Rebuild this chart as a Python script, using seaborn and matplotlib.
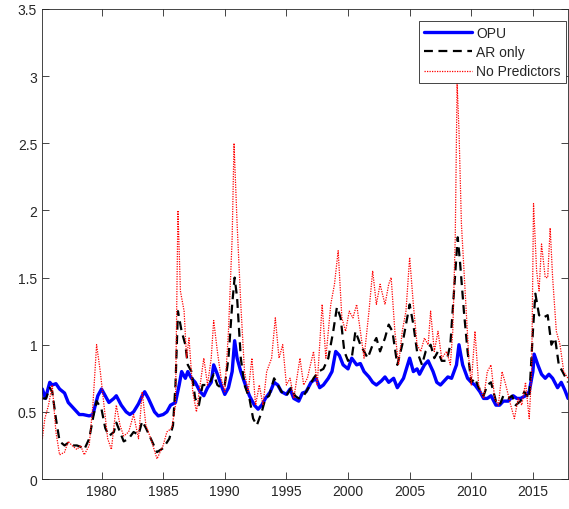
import matplotlib
matplotlib.use("Agg")
import matplotlib.pyplot as plt
import seaborn as sns

# OPU forecast series
opu_year = [1975.2, 1975.45, 1975.8, 1976.0, 1976.3, 1976.6, 1977.0, 1977.3, 1977.7, 1978.2,
            1978.5, 1979.0, 1979.3, 1979.5, 1979.7, 1980.0, 1980.3, 1980.6, 1981.0, 1981.2,
            1981.6, 1982.0, 1982.3, 1982.6, 1983.0, 1983.3, 1983.5, 1983.8, 1984.3, 1984.6,
            1985.0, 1985.3, 1985.6, 1986.0, 1986.3, 1986.5, 1986.8, 1987.0, 1987.3, 1987.6,
            1988.0, 1988.3, 1988.6, 1988.9, 1989.1, 1989.4, 1989.7, 1990.0, 1990.3, 1990.6,
            1990.8, 1991.0, 1991.3, 1991.6, 1992.0, 1992.4, 1992.7, 1993.0, 1993.3, 1993.7,
            1994.0, 1994.3, 1994.6, 1995.0, 1995.3, 1995.6, 1996.0, 1996.3, 1996.6, 1997.0,
            1997.4, 1997.7, 1998.0, 1998.4, 1998.7, 1999.0, 1999.3, 1999.6, 2000.0, 2000.3,
            2000.7, 2001.0, 2001.3, 2001.7, 2002.0, 2002.3, 2002.7, 2003.0, 2003.3, 2003.7,
            2004.0, 2004.5, 2005.0, 2005.3, 2005.6, 2005.8, 2006.2, 2006.5, 2006.9, 2007.2,
            2007.5, 2007.8, 2008.1, 2008.4, 2008.8, 2009.0, 2009.3, 2009.7, 2010.0, 2010.3,
            2010.7, 2011.0, 2011.3, 2011.6, 2012.0, 2012.3, 2012.6, 2013.0, 2013.4, 2013.7,
            2014.0, 2014.4, 2014.7, 2015.0, 2015.1, 2015.4, 2015.7, 2016.0, 2016.3, 2016.6,
            2017.0, 2017.3, 2017.6, 2017.85]
opu_val = [0.67, 0.60, 0.72, 0.70, 0.71, 0.67, 0.64, 0.57, 0.53, 0.48,
           0.48, 0.47, 0.48, 0.55, 0.62, 0.67, 0.62, 0.57, 0.60, 0.62,
           0.55, 0.50, 0.48, 0.50, 0.56, 0.62, 0.65, 0.60, 0.50, 0.47,
           0.48, 0.50, 0.55, 0.57, 0.70, 0.80, 0.75, 0.80, 0.75, 0.72,
           0.65, 0.62, 0.68, 0.72, 0.85, 0.78, 0.70, 0.63, 0.68, 0.80,
           1.03, 0.90, 0.80, 0.72, 0.62, 0.55, 0.52, 0.55, 0.60, 0.65,
           0.72, 0.70, 0.65, 0.63, 0.67, 0.60, 0.58, 0.64, 0.65, 0.72,
           0.75, 0.68, 0.70, 0.75, 0.80, 0.95, 0.92, 0.85, 0.82, 0.90,
           0.85, 0.86, 0.80, 0.76, 0.72, 0.70, 0.73, 0.76, 0.72, 0.75,
           0.68, 0.75, 0.90, 0.80, 0.82, 0.78, 0.85, 0.88, 0.80, 0.72,
           0.70, 0.73, 0.76, 0.75, 0.85, 1.00, 0.85, 0.75, 0.72, 0.70,
           0.65, 0.60, 0.60, 0.62, 0.55, 0.55, 0.58, 0.58, 0.62, 0.60,
           0.60, 0.62, 0.65, 0.80, 0.93, 0.85, 0.78, 0.75, 0.78, 0.75,
           0.68, 0.72, 0.66, 0.60]

# AR-only forecast series
ar_year = [1975.2, 1975.5, 1975.8, 1976.0, 1976.3, 1976.6, 1977.0, 1977.3, 1977.6, 1978.0,
           1978.3, 1978.6, 1979.0, 1979.3, 1979.6, 1980.0, 1980.3, 1980.6, 1981.0, 1981.2,
           1981.5, 1981.8, 1982.2, 1982.6, 1983.0, 1983.3, 1983.6, 1984.0, 1984.5, 1985.0,
           1985.5, 1985.8, 1986.0, 1986.2, 1986.5, 1986.8, 1987.0, 1987.3, 1987.6, 1987.9,
           1988.2, 1988.5, 1988.8, 1989.1, 1989.4, 1989.7, 1990.0, 1990.3, 1990.6, 1990.8,
           1991.0, 1991.3, 1991.6, 1992.0, 1992.3, 1992.6, 1993.0, 1993.3, 1993.6, 1994.0,
           1994.3, 1994.6, 1995.0, 1995.4, 1995.7, 1996.0, 1996.4, 1996.8, 1997.2, 1997.6,
           1998.0, 1998.4, 1998.8, 1999.1, 1999.4, 1999.7, 2000.0, 2000.3, 2000.6, 2001.0,
           2001.3, 2001.6, 2002.0, 2002.3, 2002.6, 2003.0, 2003.3, 2003.6, 2004.0, 2004.4,
           2004.8, 2005.0, 2005.3, 2005.6, 2006.0, 2006.3, 2006.7, 2007.0, 2007.3, 2007.6,
           2008.0, 2008.3, 2008.6, 2008.9, 2009.1, 2009.4, 2009.7, 2010.0, 2010.3, 2010.6,
           2011.0, 2011.3, 2011.6, 2012.0, 2012.3, 2012.6, 2013.0, 2013.3, 2013.6, 2014.0,
           2014.3, 2014.7, 2015.0, 2015.2, 2015.5, 2015.8, 2016.2, 2016.5, 2016.8, 2017.1,
           2017.4, 2017.85]
ar_val = [0.60, 0.60, 0.68, 0.65, 0.45, 0.28, 0.25, 0.27, 0.25, 0.25,
          0.24, 0.22, 0.30, 0.45, 0.58, 0.52, 0.38, 0.32, 0.35, 0.42,
          0.35, 0.28, 0.30, 0.35, 0.33, 0.43, 0.38, 0.30, 0.20, 0.23,
          0.30, 0.40, 0.70, 1.25, 1.10, 1.00, 0.85, 0.80, 0.60, 0.55,
          0.70, 0.70, 0.72, 0.78, 0.70, 0.68, 0.70, 0.90, 1.30, 1.50,
          1.35, 0.90, 0.70, 0.60, 0.45, 0.40, 0.50, 0.60, 0.62, 0.75,
          0.70, 0.65, 0.62, 0.68, 0.62, 0.60, 0.62, 0.68, 0.75, 0.80,
          0.82, 0.90, 1.10, 1.28, 1.20, 0.95, 0.88, 0.90, 1.10, 1.00,
          0.95, 0.90, 1.00, 1.05, 0.95, 1.05, 1.15, 1.10, 0.85, 1.00,
          1.20, 1.30, 1.15, 0.95, 0.85, 0.95, 1.00, 0.90, 0.95, 0.88,
          0.88, 1.00, 1.40, 1.80, 1.60, 1.25, 0.95, 0.72, 0.75, 0.68,
          0.62, 0.70, 0.72, 0.58, 0.55, 0.62, 0.60, 0.62, 0.55, 0.58,
          0.65, 0.60, 1.10, 1.38, 1.22, 1.20, 1.22, 1.00, 1.05, 0.85,
          0.80, 0.72]

# Forecasts with no predictors
np_year = [1975.2, 1975.4, 1975.7, 1976.0, 1976.3, 1976.6, 1977.0, 1977.3, 1977.6, 1978.0,
           1978.3, 1978.6, 1979.0, 1979.3, 1979.6, 1979.9, 1980.2, 1980.5, 1980.8, 1981.2,
           1981.5, 1981.8, 1982.2, 1982.6, 1983.0, 1983.3, 1983.6, 1984.0, 1984.5, 1985.0,
           1985.3, 1985.7, 1986.0, 1986.2, 1986.4, 1986.7, 1986.9, 1987.1, 1987.4, 1987.7,
           1988.0, 1988.3, 1988.6, 1988.9, 1989.1, 1989.4, 1989.7, 1990.0, 1990.3, 1990.6,
           1990.75, 1991.0, 1991.3, 1991.6, 1991.9, 1992.2, 1992.5, 1992.8, 1993.1, 1993.4,
           1993.8, 1994.1, 1994.4, 1994.7, 1995.0, 1995.3, 1995.6, 1996.1, 1996.4, 1996.7,
           1997.2, 1997.5, 1997.9, 1998.2, 1998.6, 1998.9, 1999.2, 1999.5, 1999.8, 2000.1,
           2000.4, 2000.7, 2001.0, 2001.3, 2001.7, 2002.0, 2002.3, 2002.6, 2003.0, 2003.3,
           2003.5, 2003.8, 2004.1, 2004.4, 2004.7, 2005.0, 2005.3, 2005.6, 2005.9, 2006.2,
           2006.5, 2006.7, 2007.0, 2007.3, 2007.6, 2008.0, 2008.3, 2008.5, 2008.7, 2008.85,
           2009.0, 2009.2, 2009.5, 2009.8, 2010.0, 2010.3, 2010.6, 2011.0, 2011.3, 2011.6,
           2011.9, 2012.2, 2012.5, 2012.8, 2013.2, 2013.5, 2013.8, 2014.1, 2014.4, 2014.7,
           2014.9, 2015.05, 2015.3, 2015.5, 2015.7, 2016.0, 2016.2, 2016.4, 2016.6, 2016.9,
           2017.2, 2017.5, 2017.85]
np_val = [0.30, 0.45, 0.55, 0.70, 0.35, 0.18, 0.20, 0.28, 0.25, 0.22,
          0.25, 0.18, 0.25, 0.55, 1.00, 0.80, 0.55, 0.30, 0.22, 0.55,
          0.40, 0.32, 0.35, 0.48, 0.30, 0.65, 0.40, 0.30, 0.15, 0.25,
          0.35, 0.38, 0.55, 2.00, 1.40, 1.25, 0.90, 1.05, 0.65, 0.50,
          0.70, 0.90, 0.70, 0.90, 1.18, 0.95, 0.75, 0.65, 1.10, 1.80,
          2.50, 1.90, 1.30, 0.80, 0.65, 0.90, 0.55, 0.70, 0.55, 0.80,
          0.90, 1.20, 0.90, 1.00, 0.70, 0.75, 0.60, 0.90, 0.70, 0.75,
          0.95, 0.70, 1.30, 0.90, 1.30, 1.45, 1.70, 1.20, 1.10, 1.25,
          1.20, 1.30, 1.10, 0.90, 1.25, 1.55, 1.30, 1.45, 1.30, 1.45,
          1.50, 1.10, 0.85, 1.10, 1.25, 1.65, 1.30, 1.00, 0.95, 1.05,
          1.00, 1.25, 0.95, 1.10, 0.90, 0.95, 0.85, 1.10, 1.80, 2.95,
          2.60, 1.90, 1.40, 0.90, 0.70, 1.10, 0.70, 0.60, 0.80, 0.85,
          0.60, 0.55, 0.80, 0.70, 0.55, 0.45, 0.60, 0.55, 0.72, 0.45,
          0.80, 2.05, 1.55, 1.40, 1.75, 1.50, 1.50, 1.87, 1.50, 1.10,
          1.00, 0.80, 0.75]

x_ticks = [1980, 1985, 1990, 1995, 2000, 2005, 2010, 2015]
y_ticks = [0, 0.5, 1, 1.5, 2, 2.5, 3, 3.5]
y_tick_labels = ["0", "0.5", "1", "1.5", "2", "2.5", "3", "3.5"]

sns.set_style("white")
plt.rcParams["font.family"] = ["Liberation Sans", "DejaVu Sans"]

axis_color = "#262626"
fig = plt.figure(figsize=(5.69, 5.10), dpi=100)
ax = fig.add_axes([0.0738, 0.0588, 0.9245, 0.9216])

sns.lineplot(x=opu_year, y=opu_val, ax=ax, color="#0000ff", linewidth=2.4,
             label="OPU")
sns.lineplot(x=ar_year, y=ar_val, ax=ax, color="black", linewidth=1.6,
             linestyle=(0, (4, 2.5)), label="AR only")
sns.lineplot(x=np_year, y=np_val, ax=ax, color="#ff0000", linewidth=0.9,
             linestyle=(0, (1, 1)), label="No Predictors")

ax.set_xlim(1975.17, 2017.85)
ax.set_ylim(0, 3.5)
ax.set_xticks(x_ticks)
ax.set_xticklabels([str(t) for t in x_ticks])
ax.set_yticks(y_ticks)
ax.set_yticklabels(y_tick_labels)
ax.tick_params(direction="in", length=5, width=0.6, colors=axis_color,
               labelsize=10, top=True, right=True, bottom=True, left=True)
for side in ax.spines.values():
    side.set_visible(True)
    side.set_color(axis_color)
    side.set_linewidth(0.6)

leg = ax.legend(loc="upper right", bbox_to_anchor=(0.996, 0.974),
                borderaxespad=0, fontsize=10, frameon=True, fancybox=False,
                handlelength=3.45, handletextpad=0.3, labelspacing=0.37,
                borderpad=0.36)
leg.get_frame().set_edgecolor(axis_color)
leg.get_frame().set_linewidth(0.6)
leg.get_frame().set_alpha(1)

fig.savefig("out.png", dpi=100)
